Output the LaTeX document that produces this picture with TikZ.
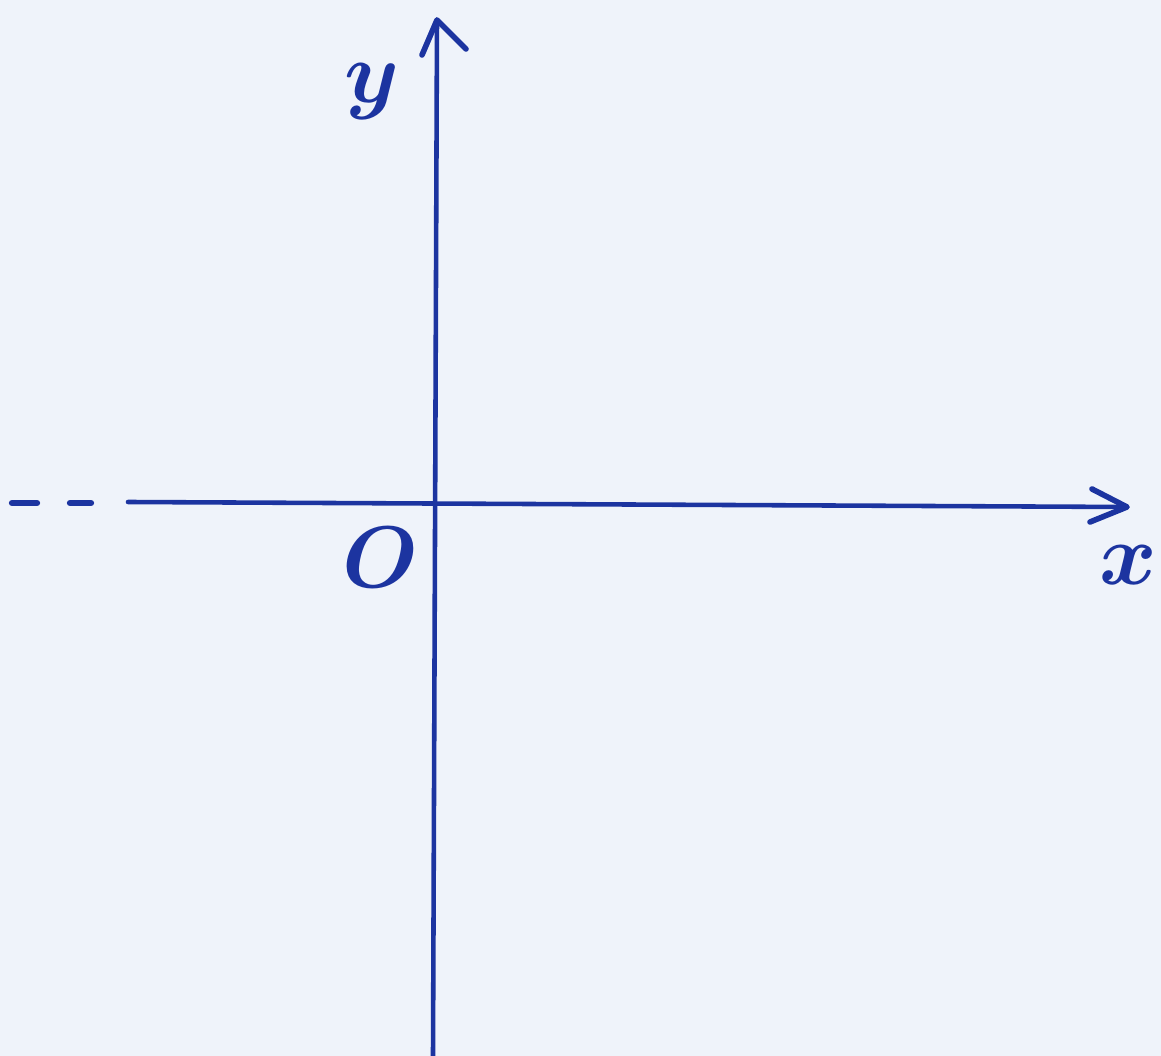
\documentclass[tikz,border=0pt]{standalone}
\begin{document}
\begin{tikzpicture}[x=0.1mm,y=-0.1mm,
  ink/.style={draw=inkblue,line width=1.3pt,line cap=round,line join=round},
  lbl/.style={text=inkblue,inner sep=0pt,font=\fontsize{36}{36}\selectfont\boldmath}]
\definecolor{inkblue}{RGB}{28,52,160}
\definecolor{paper}{RGB}{239,243,250}
\fill[paper] (0,0) rectangle (1161,1056);
\useasboundingbox (0,0) rectangle (1161,1056);
% axes
\coordinate (xl) at (128,502);
\coordinate (xr) at (1127,507);
\coordinate (yb) at (433,1056);
\coordinate (yt) at (437,20);
\draw[ink] (xl) -- (xr);
\draw[ink] (yb) -- (yt);
% arrowheads
\coordinate (xa1) at (1092,489);
\coordinate (xa2) at (1090,522);
\draw[ink,line width=1.6pt] (xa1) -- (xr) -- (xa2);
\coordinate (ya1) at (422,55);
\coordinate (ya2) at (466,49);
\draw[ink,line width=1.6pt] (ya1) -- (yt) -- (ya2);
% dashes
\coordinate (d1a) at (12,503);
\coordinate (d1b) at (37,503);
\coordinate (d2a) at (70,503);
\coordinate (d2b) at (91,503);
\draw[ink,line width=1.8pt] (d1a) -- (d1b);
\draw[ink,line width=1.8pt] (d2a) -- (d2b);
% labels
\node[lbl] (ylab) at (372,92) {$y$};
\node[lbl] (xlab) at (1128,565) {$x$};
\node[lbl] (olab) at (380,558) {$O$};
\end{tikzpicture}
\end{document}
